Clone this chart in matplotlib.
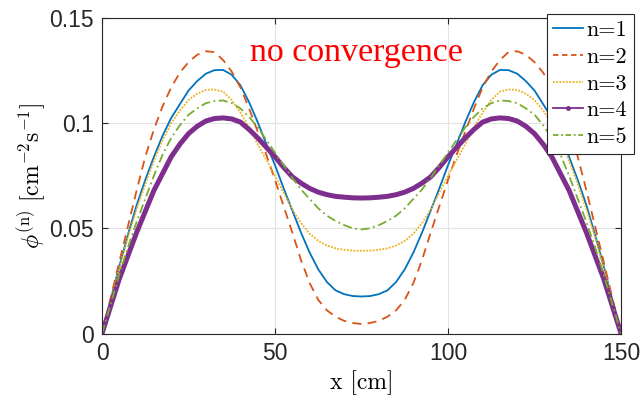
import numpy as np
import matplotlib
matplotlib.use('Agg')
import matplotlib.pyplot as plt
from matplotlib.lines import Line2D

plt.rcParams['mathtext.fontset'] = 'cm'

# positions along the slab [cm], every 2.5 cm
x = np.arange(0, 150.1, 2.5)

# flux values
phi1 = [0, 0.016, 0.032, 0.047, 0.061, 0.073, 0.084, 0.094, 0.1025, 0.109,
        0.1155, 0.120, 0.1235, 0.1252, 0.1253, 0.123, 0.118, 0.110, 0.1005,
        0.090, 0.080, 0.069, 0.0585, 0.048, 0.0385, 0.0305, 0.0245, 0.0205,
        0.0187, 0.0178, 0.0176,
        0.0178, 0.0187, 0.0205, 0.0245, 0.0305, 0.0385, 0.048, 0.0585, 0.069,
        0.080, 0.090, 0.1005, 0.110, 0.118, 0.123, 0.1253, 0.1252, 0.1235,
        0.120, 0.1155, 0.109, 0.1025, 0.094, 0.084, 0.073, 0.061, 0.047,
        0.032, 0.016, 0]
phi2 = [0, 0.017, 0.034, 0.051, 0.068, 0.084, 0.097, 0.108, 0.117, 0.124,
        0.129, 0.1325, 0.1342, 0.1338, 0.130, 0.1245, 0.117, 0.107, 0.096,
        0.085, 0.073, 0.0605, 0.048, 0.035, 0.024, 0.016, 0.011, 0.008,
        0.006, 0.005, 0.0045,
        0.005, 0.006, 0.008, 0.011, 0.016, 0.024, 0.035, 0.048, 0.0605,
        0.073, 0.085, 0.096, 0.107, 0.117, 0.1245, 0.130, 0.1338, 0.1342,
        0.1325, 0.129, 0.124, 0.117, 0.108, 0.097, 0.084, 0.068, 0.051,
        0.034, 0.017, 0]
phi3 = [0, 0.0155, 0.031, 0.046, 0.059, 0.071, 0.082, 0.092, 0.100, 0.106,
        0.111, 0.114, 0.1158, 0.116, 0.115, 0.111, 0.105, 0.098, 0.090,
        0.0825, 0.075, 0.067, 0.059, 0.0525, 0.0475, 0.044, 0.0418, 0.0405,
        0.0398, 0.0394, 0.0393,
        0.0394, 0.0398, 0.0405, 0.0418, 0.044, 0.0475, 0.0525, 0.059, 0.067,
        0.075, 0.0825, 0.090, 0.098, 0.105, 0.111, 0.115, 0.116, 0.1158,
        0.114, 0.111, 0.106, 0.100, 0.092, 0.082, 0.071, 0.059, 0.046,
        0.031, 0.0155, 0]
phi4 = [0, 0.013, 0.026, 0.037, 0.048, 0.058, 0.068, 0.076, 0.084, 0.090,
        0.095, 0.0985, 0.101, 0.1022, 0.1025, 0.102, 0.1005, 0.097, 0.093,
        0.0885, 0.084, 0.079, 0.0745, 0.0715, 0.069, 0.0672, 0.066, 0.0652,
        0.0648, 0.0645, 0.0644,
        0.0645, 0.0648, 0.0652, 0.066, 0.0672, 0.069, 0.0715, 0.0745, 0.079,
        0.084, 0.0885, 0.093, 0.097, 0.1005, 0.102, 0.1025, 0.1022, 0.101,
        0.0985, 0.095, 0.090, 0.084, 0.076, 0.068, 0.058, 0.048, 0.037,
        0.026, 0.013, 0]
phi5 = [0, 0.014, 0.028, 0.041, 0.053, 0.064, 0.075, 0.085, 0.093, 0.099,
        0.104, 0.107, 0.1095, 0.1105, 0.1108, 0.1095, 0.107, 0.103, 0.098,
        0.092, 0.086, 0.080, 0.074, 0.0685, 0.064, 0.0595, 0.056, 0.0535,
        0.0515, 0.050, 0.0495,
        0.050, 0.0515, 0.0535, 0.056, 0.0595, 0.064, 0.0685, 0.074, 0.080,
        0.086, 0.092, 0.098, 0.103, 0.107, 0.1095, 0.1108, 0.1105, 0.1095,
        0.107, 0.104, 0.099, 0.093, 0.085, 0.075, 0.064, 0.053, 0.041,
        0.028, 0.014, 0]

labels = ['n=1', 'n=2', 'n=3', 'n=4', 'n=5']
colours = ['#0072BD', '#D95319', '#EDB120', '#7E2F8E', '#77AC30']

xticks = [0, 50, 100, 150]
yticks = [0, 0.05, 0.1, 0.15]
yticklabels = ['0', '0.05', '0.1', '0.15']

fig = plt.figure(figsize=(6.44, 4.04), dpi=100)
ax = fig.add_axes([0.1584, 0.1745, 0.8059, 0.781])

ax.plot(x, phi1, color=colours[0], lw=1.3, ls='-')
ax.plot(x, phi2, color=colours[1], lw=1.3, ls=(0, (5, 3.5)))
ax.plot(x, phi3, color=colours[2], lw=1.3, ls=(0, (1, 0.8)))
ax.plot(x, phi4, color=colours[3], lw=3.6, ls='-', solid_capstyle='round')
ax.plot(x, phi5, color=colours[4], lw=1.3, ls=(0, (5, 2, 1, 2)))

ax.set_xlim(0, 150)
ax.set_ylim(0, 0.15)
ax.set_xticks(xticks)
ax.set_yticks(yticks)
ax.set_yticklabels(yticklabels)
for lab in ax.get_xticklabels() + ax.get_yticklabels():
    lab.set_family('Liberation Sans')
    lab.set_fontsize(16.5)
    lab.set_color('#262626')
ax.tick_params(direction='in', length=4, width=0.8, color='#262626',
               top=True, right=True, pad=6)
ax.grid(True, color='#e3e3e3', lw=0.8)
ax.set_axisbelow(True)
for s in ax.spines.values():
    s.set_color('#262626')
    s.set_linewidth(0.8)

ax.set_xlabel('x [cm]', family='cmr10', fontsize=17, labelpad=4)
ax.set_ylabel(r'$\phi^{(\mathrm{n})}\ [\mathrm{cm}^{-2}\mathrm{s}^{-1}]$',
              fontsize=17, labelpad=0)

ax.text(73.5, 0.1335, 'no convergence', color='red', fontsize=24.5,
        family='Liberation Serif', ha='center', va='center')

handles = [
    Line2D([], [], color=colours[0], lw=1.3, ls='-'),
    Line2D([], [], color=colours[1], lw=1.3, ls=(0, (3, 2))),
    Line2D([], [], color=colours[2], lw=1.3, ls=(0, (1, 0.8))),
    Line2D([], [], color=colours[3], lw=1.3, ls='-', marker='.', markersize=5),
    Line2D([], [], color=colours[4], lw=1.3, ls=(0, (3, 1.5, 1, 1.5))),
]
leg = fig.legend(handles, labels, loc='upper right',
                 bbox_to_anchor=(634 / 644, 390 / 404),
                 bbox_transform=fig.transFigure,
                 prop={'family': 'cmr10', 'size': 16},
                 handlelength=1.35, handletextpad=0.15, labelspacing=0.32,
                 borderpad=0.3, borderaxespad=0, fancybox=False,
                 framealpha=1, edgecolor='#262626')
leg.get_frame().set_linewidth(0.8)

fig.savefig('out.png', dpi=100)
